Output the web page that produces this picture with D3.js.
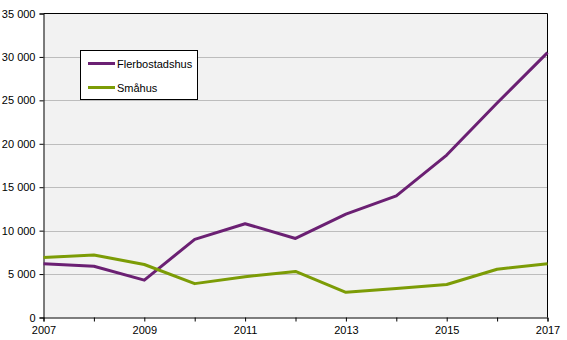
<!DOCTYPE html>
<html>
<head>
<meta charset="utf-8">
<script src="https://cdn.jsdelivr.net/npm/d3@7"></script>
<style>
  html, body { margin: 0; padding: 0; background: #ffffff; }
  svg { display: block; font-family: "Liberation Sans", Arial, sans-serif; }
</style>
</head>
<body>
<svg id="chart" width="567" height="340"></svg>
<script>
// Completed dwellings by building type, 2007–2017
const years = [2007, 2008, 2009, 2010, 2011, 2012, 2013, 2014, 2015, 2016, 2017];
const flerbostadshus = [6200, 5900, 4300, 9000, 10800, 9100, 11900, 14000, 18700, 24700, 30500];
const smahus = [6900, 7200, 6100, 3900, 4700, 5300, 2900, 3350, 3800, 5550, 6200];
const seriesNames = ["Flerbostadshus", "Småhus"];
const seriesColors = ["#6b2073", "#7c9c06"];
const yTicks = [0, 5000, 10000, 15000, 20000, 25000, 30000, 35000];
const xLabelYears = [2007, 2009, 2011, 2013, 2015, 2017];

const svg = d3.select("#chart");
const m = { left: 43.5, right: 547.5, top: 13.5, bottom: 317.5 };

const x = d3.scaleLinear().domain([2007, 2017]).range([m.left, m.right]);
const y = d3.scaleLinear().domain([0, 35000]).range([m.bottom, m.top]);

const fmt = v => d3.format(",")(v).replace(/,/g, " ");

// plot background
svg.append("rect")
  .attr("x", m.left).attr("y", m.top)
  .attr("width", m.right - m.left).attr("height", m.bottom - m.top)
  .attr("fill", "#f2f2f2");

// horizontal gridlines
svg.append("g").selectAll("line")
  .data(yTicks.filter(t => t > 0 && t < 35000))
  .join("line")
  .attr("x1", m.left).attr("x2", m.right)
  .attr("y1", d => Math.round(y(d)) + 0.5).attr("y2", d => Math.round(y(d)) + 0.5)
  .attr("stroke", "#bdbdbd").attr("stroke-width", 1);

// y axis
const yAxis = svg.append("g")
  .attr("transform", `translate(${m.left},0)`)
  .call(d3.axisLeft(y).tickValues(yTicks).tickFormat(fmt).tickSize(4).tickPadding(4));
yAxis.select(".domain").attr("stroke", "#000");
yAxis.selectAll(".tick line").attr("stroke", "#000");
yAxis.selectAll(".tick text").attr("fill", "#000").attr("font-size", "11px")
  .attr("font-family", "'Liberation Sans', Arial, sans-serif");

// x axis
const xAxis = svg.append("g")
  .attr("transform", `translate(0,${m.bottom})`)
  .call(d3.axisBottom(x).tickValues(years)
    .tickFormat(d => xLabelYears.includes(d) ? String(d) : "")
    .tickSize(4).tickPadding(5));
xAxis.select(".domain").attr("stroke", "#000");
xAxis.selectAll(".tick line").attr("stroke", "#000");
xAxis.selectAll(".tick text").attr("fill", "#000").attr("font-size", "11px")
  .attr("font-family", "'Liberation Sans', Arial, sans-serif");

// plot frame (top and right edges)
svg.append("path")
  .attr("d", `M${m.left},${m.top}H${m.right}V${m.bottom}`)
  .attr("fill", "none").attr("stroke", "#000").attr("stroke-width", 1);

// series lines
const line = d3.line().x((d, i) => x(years[i])).y(d => y(d));
[flerbostadshus, smahus].forEach((vals, k) => {
  svg.append("path")
    .datum(vals)
    .attr("d", line)
    .attr("fill", "none")
    .attr("stroke", seriesColors[k])
    .attr("stroke-width", 3)
    .attr("stroke-linejoin", "round");
});

// legend
const lg = svg.append("g");
lg.append("rect")
  .attr("x", 80.5).attr("y", 50.5).attr("width", 117).attr("height", 49)
  .attr("fill", "#fff").attr("stroke", "#000").attr("stroke-width", 1);
seriesNames.forEach((name, i) => {
  const ly = 63.5 + i * 24;
  lg.append("line")
    .attr("x1", 88).attr("x2", 115).attr("y1", ly).attr("y2", ly)
    .attr("stroke", seriesColors[i]).attr("stroke-width", 3);
  lg.append("text")
    .attr("x", 117).attr("y", ly + 4)
    .attr("font-size", "11px").attr("fill", "#000")
    .text(name);
});
</script>
</body>
</html>
